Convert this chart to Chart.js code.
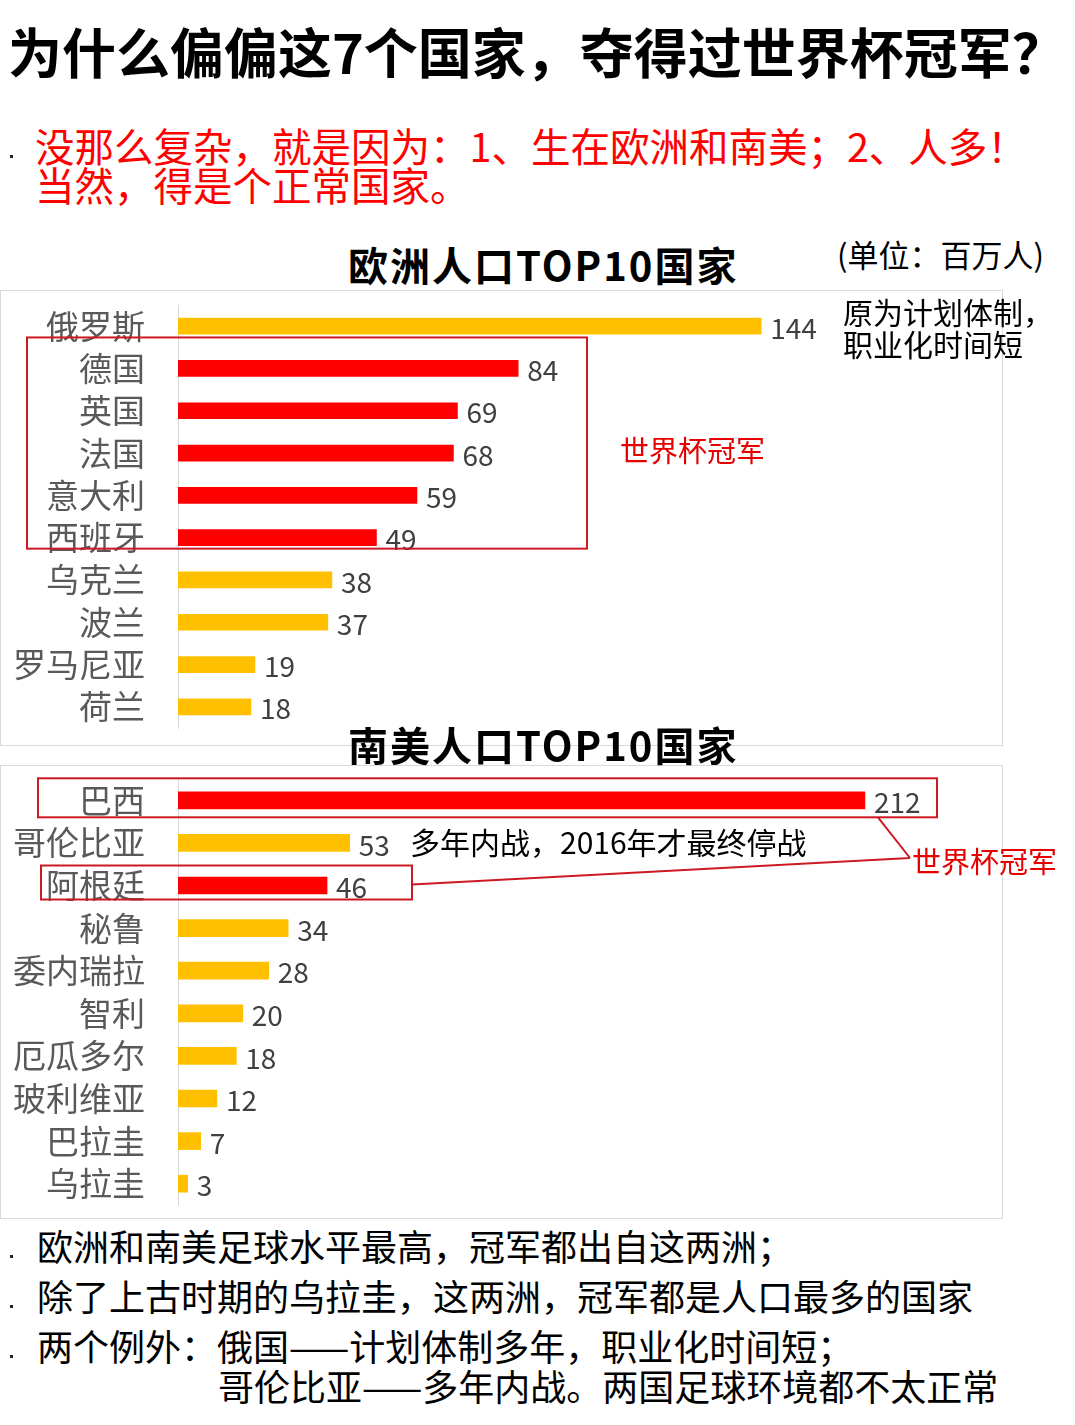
<!DOCTYPE html>
<html>
<head>
<meta charset="utf-8">
<script src="https://cdn.jsdelivr.net/npm/chart.js@4.4.1/dist/chart.umd.min.js"></script>
<style>
  body { margin: 0; width: 1075px; height: 1425px; background: #fff; position: relative; overflow: hidden;
         font-family: "Noto Sans CJK SC", sans-serif; }
  .t { position: absolute; white-space: nowrap; line-height: 1; }
  .frame { position: absolute; border: 1px solid #d9d9d9; box-sizing: border-box; }
  .dot { position: absolute; width: 3px; height: 3px; background: #222; }
  canvas { position: absolute; left: 0; }
</style>
</head>
<body>

<div class="t" style="left:8px;top:24px;font-size:54px;font-weight:bold;color:#000;">为什么偏偏这7个国家，夺得过世界杯冠军？</div>

<div class="dot" style="left:10px;top:155px;"></div>
<div class="t" style="left:35px;top:125px;font-size:39.5px;color:#f00;">没那么复杂，就是因为：1、生在欧洲和南美；2、人多！</div>
<div class="t" style="left:35px;top:164px;font-size:39.5px;color:#f00;">当然，得是个正常国家。</div>

<div class="t" style="left:348px;top:244px;font-size:40px;font-weight:bold;letter-spacing:2px;color:#000;">欧洲人口TOP10国家</div>
<div class="t" style="left:837px;top:238px;font-size:31px;color:#000;">(单位：百万人)</div>

<div class="frame" style="left:0;top:290px;width:1003px;height:456px;"></div>
<canvas id="euroChart" width="1003" height="456" style="top:290px;"></canvas>

<div class="frame" style="left:0;top:765px;width:1003px;height:454px;"></div>
<canvas id="southChart" width="1003" height="454" style="top:765px;"></canvas>

<div class="t" style="left:348px;top:724px;font-size:40px;font-weight:bold;letter-spacing:2px;color:#000;">南美人口TOP10国家</div>

<div class="t" style="left:843px;top:296px;font-size:30px;color:#000;">原为计划体制，</div>
<div class="t" style="left:843px;top:328px;font-size:30px;color:#000;">职业化时间短</div>
<div class="t" style="left:620px;top:435px;font-size:29px;color:#e60000;">世界杯冠军</div>

<div class="t" style="left:410px;top:826px;font-size:30px;color:#000;">多年内战，2016年才最终停战</div>
<div class="t" style="left:912px;top:846px;font-size:29px;color:#e60000;">世界杯冠军</div>

<div class="dot" style="left:10px;top:1255px;"></div>
<div class="t" style="left:37px;top:1227px;font-size:36px;color:#000;">欧洲和南美足球水平最高，冠军都出自这两洲；</div>
<div class="dot" style="left:10px;top:1305px;"></div>
<div class="t" style="left:37px;top:1277px;font-size:36px;color:#000;">除了上古时期的乌拉圭，这两洲，冠军都是人口最多的国家</div>
<div class="dot" style="left:10px;top:1355px;"></div>
<div class="t" style="left:37px;top:1327px;font-size:36px;color:#000;">两个例外：俄国——计划体制多年，职业化时间短；</div>
<div class="t" style="left:218px;top:1367px;font-size:36px;color:#000;">哥伦比亚——多年内战。两国足球环境都不太正常</div>

<script>
// europe: population in millions
const euroCountries = ['俄罗斯', '德国', '英国', '法国', '意大利', '西班牙', '乌克兰', '波兰', '罗马尼亚', '荷兰'];
const euroPopulation = [144, 84, 69, 68, 59, 49, 38, 37, 19, 18];
const euroChampions = ['德国', '英国', '法国', '意大利', '西班牙'];

// south america: population in millions
const southCountries = ['巴西', '哥伦比亚', '阿根廷', '秘鲁', '委内瑞拉', '智利', '厄瓜多尔', '玻利维亚', '巴拉圭', '乌拉圭'];
const southPopulation = [212, 53, 46, 34, 28, 20, 18, 12, 7, 3];
const southChampions = ['巴西', '阿根廷'];

const RED = '#ff0000';
const YELLOW = '#ffc000';
const BOX_RED = '#cc1a22';

function barColors(countries, champions) {
  return countries.map(c => champions.includes(c) ? RED : YELLOW);
}

// value text right of each bar
const valueLabels = {
  id: 'valueLabels',
  afterDatasetsDraw(chart) {
    const ctx = chart.ctx;
    const meta = chart.getDatasetMeta(0);
    const values = chart.data.datasets[0].data;
    ctx.save();
    ctx.font = '28px "Noto Sans CJK SC"';
    ctx.fillStyle = '#404040';
    ctx.textBaseline = 'middle';
    meta.data.forEach((bar, i) => {
      ctx.fillText(values[i], bar.x + 9, bar.y + 2);
    });
    ctx.restore();
  }
};

// red boxes round the champions
const euroBox = {
  id: 'euroBox',
  afterDraw(chart) {
    const ctx = chart.ctx;
    const y = chart.scales.y;
    const top = y.getPixelForValue(euroCountries.indexOf('德国')) - 31;
    const bottom = y.getPixelForValue(euroCountries.indexOf('西班牙')) + 11;
    ctx.save();
    ctx.strokeStyle = BOX_RED;
    ctx.lineWidth = 2;
    ctx.strokeRect(27, top, 560, bottom - top);
    ctx.restore();
  }
};

const southBox = {
  id: 'southBox',
  afterDraw(chart) {
    const ctx = chart.ctx;
    const y = chart.scales.y;
    const brazil = y.getPixelForValue(southCountries.indexOf('巴西'));
    const argentina = y.getPixelForValue(southCountries.indexOf('阿根廷'));
    ctx.save();
    ctx.strokeStyle = BOX_RED;
    ctx.lineWidth = 2;
    ctx.strokeRect(38, brazil - 22, 899, 39);
    ctx.strokeRect(41, argentina - 20, 371, 34);
    ctx.beginPath();
    ctx.moveTo(878, brazil + 17);
    ctx.lineTo(910, 93);
    ctx.moveTo(412, argentina - 1);
    ctx.lineTo(910, 93);
    ctx.stroke();
    ctx.restore();
  }
};

function makeChart(id, labels, values, champions, xMax, pad, thickness, extra) {
  const ctx = document.getElementById(id).getContext('2d');
  return new Chart(ctx, {
    type: 'bar',
    data: {
      labels: labels,
      datasets: [{
        data: values,
        backgroundColor: barColors(labels, champions),
        barThickness: thickness,
        borderWidth: 0
      }]
    },
    options: {
      indexAxis: 'y',
      responsive: false,
      animation: false,
      layout: { padding: pad },
      plugins: { legend: { display: false }, tooltip: { enabled: false } },
      scales: {
        x: { display: false, min: 0, max: xMax },
        y: {
          grid: { display: false, drawTicks: false },
          border: { display: true, color: '#d9d9d9', width: 1 },
          ticks: {
            autoSkip: false,
            padding: 33,
            color: '#595959',
            font: { family: '"Noto Sans CJK SC"', size: 33 }
          },
          afterFit(scale) {
            scale.width = 178;
            scale.paddingTop = 0;
            scale.paddingBottom = 0;
          }
        }
      }
    },
    plugins: [valueLabels, extra]
  });
}

makeChart('euroChart', euroCountries, euroPopulation, euroChampions, 200,
  { top: 15, bottom: 18, right: 15, left: 0 }, 16, euroBox);
makeChart('southChart', southCountries, southPopulation, southChampions, 250,
  { top: 14, bottom: 14, right: 15, left: 0 }, 17, southBox);
</script>
</body>
</html>
